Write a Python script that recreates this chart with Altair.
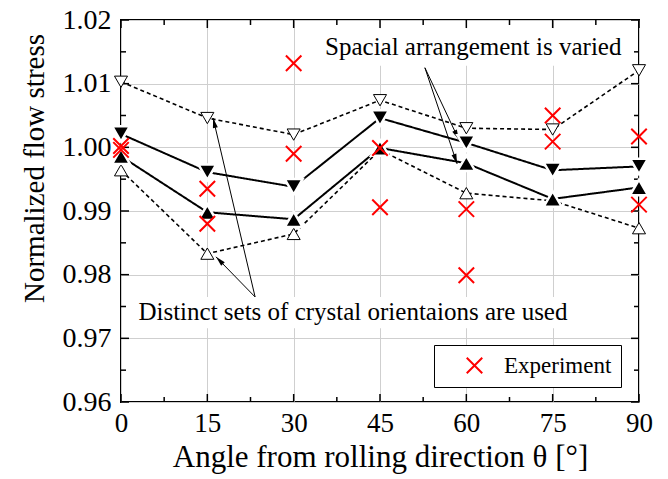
import math
import altair as alt
import pandas as pd

# ---- data -----------------------------------------------------------------
angles = [0, 15, 30, 45, 60, 75, 90]

# simulated normalized flow stress, four cases
orient_upper = [1.0103, 1.0046, 1.0020, 1.0074, 1.0030, 1.0028, 1.0121]   # open down-triangles, dashed
spatial_upper = [1.0021, 0.9961, 0.9938, 1.0046, 1.0007, 0.9964, 0.9970]  # filled down-triangles, solid
spatial_lower = [0.9986, 0.9898, 0.9887, 0.9999, 0.9975, 0.9919, 0.9937]  # filled up-triangles, solid
orient_lower = [0.9964, 0.9833, 0.9864, 0.9996, 0.9928, 0.9916, 0.9873]   # open up-triangles, dashed

# experiment
exp_angles = [0, 0, 15, 15, 30, 30, 45, 45, 60, 60, 75, 75, 90, 90]
exp_values = [1.0002, 0.9996, 0.9935, 0.9880, 1.0132, 0.9990, 0.9999, 0.9906,
              0.9903, 0.9799, 1.0050, 1.0009, 1.0017, 0.9910]

# axis ticks
x_major = [0, 15, 30, 45, 60, 75, 90]
x_minor = [7.5, 22.5, 37.5, 52.5, 67.5, 82.5]
y_major = [0.96, 0.97, 0.98, 0.99, 1.00, 1.01, 1.02]
y_minor = [0.965, 0.975, 0.985, 0.995, 1.005, 1.015]

# annotations: text, centre, white box behind it
notes = ["Spacial arrangement is varied", "Distinct sets of crystal orientaions are used"]
note_x = [61.2, 40.3]
note_y = [1.0157, 0.9741]
box_x = [34.9, 2.4]
box_x2 = [87.6, 78.4]
box_y = [1.0187, 0.9765]
box_y2 = [1.0128, 0.9716]

# arrows: start -> end
arrow_x0 = [52.8, 52.8, 23.3, 23.3]
arrow_y0 = [1.0125, 1.0125, 0.9765, 0.9765]
arrow_x1 = [58.7, 58.4, 16.0, 16.5]
arrow_y1 = [1.0012, 0.9974, 1.0046, 0.9828]

# ---- layout ---------------------------------------------------------------
W, H = 518, 382
X_DOM, Y_DOM = [0, 90], [0.96, 1.02]
FONT = "Liberation Serif"

xs = alt.Scale(domain=X_DOM, nice=False, zero=False)
ys = alt.Scale(domain=Y_DOM, nice=False, zero=False)

x_axis = alt.Axis(values=x_major, title="Angle from rolling direction θ [°]",
                  tickSize=0, domain=False, labelPadding=8, titlePadding=6,
                  labelFlush=False, labelFontSize=27, titleFontSize=31,
                  titleFontWeight="normal",
                  grid=True, gridColor="#cfcfcf", gridWidth=1)
y_axis = alt.Axis(values=y_major, format=".2f", title="Normalized flow stress",
                  tickSize=0, domain=False, labelPadding=10, titlePadding=13,
                  titleY=148,
                  labelFlush=False, labelFontSize=28, titleFontSize=29,
                  titleFontWeight="normal",
                  grid=True, gridColor="#cfcfcf", gridWidth=1)

X = lambda f: alt.X(f, type="quantitative", scale=xs, axis=x_axis)
Y = lambda f: alt.Y(f, type="quantitative", scale=ys, axis=y_axis)

layers = []

# inward ticks on all four sides
def xticks(vals, length):
    df = pd.DataFrame({"v": vals})
    b = alt.Chart(df).mark_rule(color="black", strokeWidth=1.5).encode(
        x=X("v"), y=alt.value(H), y2=alt.value(H - length))
    t = alt.Chart(df).mark_rule(color="black", strokeWidth=1.5).encode(
        x=X("v"), y=alt.value(0), y2=alt.value(length))
    return [b, t]

def yticks(vals, length):
    df = pd.DataFrame({"v": vals})
    l = alt.Chart(df).mark_rule(color="black", strokeWidth=1.5).encode(
        y=Y("v"), x=alt.value(0), x2=alt.value(length))
    r = alt.Chart(df).mark_rule(color="black", strokeWidth=1.5).encode(
        y=Y("v"), x=alt.value(W), x2=alt.value(W - length))
    return [l, r]

layers += xticks(x_major, 8) + xticks(x_minor, 5) + yticks(y_major, 8) + yticks(y_minor, 5)

# annotation boxes and text
note_df = pd.DataFrame({"t": notes, "x": note_x, "y": note_y,
                        "bx": box_x, "bx2": box_x2, "by": box_y, "by2": box_y2})
layers.append(alt.Chart(note_df).mark_rect(color="white").encode(
    x=X("bx"), x2="bx2", y=Y("by"), y2="by2"))
layers.append(alt.Chart(note_df).mark_text(font=FONT, fontSize=25, color="black",
                                           baseline="middle", align="center").encode(
    x=X("x"), y=Y("y"), text="t:N"))

# arrows
px_x = W / (X_DOM[1] - X_DOM[0])
px_y = H / (Y_DOM[1] - Y_DOM[0])
ang = []
for a0, b0, a1, b1 in zip(arrow_x0, arrow_y0, arrow_x1, arrow_y1):
    dx = (a1 - a0) * px_x
    dy = -(b1 - b0) * px_y
    ang.append(math.degrees(math.atan2(dx, -dy)) % 360)
arr_df = pd.DataFrame({"x0": arrow_x0, "y0": arrow_y0, "x1": arrow_x1, "y1": arrow_y1, "a": ang})
layers.append(alt.Chart(arr_df).mark_rule(color="black", strokeWidth=1).encode(
    x=X("x0"), y=Y("y0"), x2="x1", y2="y1"))
layers.append(alt.Chart(arr_df).mark_point(shape="M0,0L-0.25,1L0.25,1Z", size=400,
                                           filled=True, color="black", opacity=1).encode(
    x=X("x1"), y=Y("y1"), angle=alt.Angle("a:Q", scale=None)))

# simulation series
def series(vals, dashed, shape, filled, size):
    df = pd.DataFrame({"a": angles, "v": vals})
    line = alt.Chart(df).mark_line(color="black",
                                   strokeWidth=1.6 if dashed else 2,
                                   strokeDash=[4, 3] if dashed else [1, 0]).encode(
        x=X("a"), y=Y("v"))
    if filled:
        pts = alt.Chart(df).mark_point(shape=shape, size=size, filled=True, opacity=1,
                                       fill="black", stroke="white", strokeWidth=2.5).encode(
            x=X("a"), y=Y("v"))
    else:
        pts = alt.Chart(df).mark_point(shape=shape, size=size, filled=True, opacity=1,
                                       fill="white", stroke="black", strokeWidth=1).encode(
            x=X("a"), y=Y("v"))
    return [line, pts]

layers += series(orient_upper, True, "triangle-down", False, 170)
layers += series(orient_lower, True, "triangle-up", False, 170)
layers += series(spatial_upper, False, "triangle-down", True, 320)
layers += series(spatial_lower, False, "triangle-up", True, 320)

# experiment crosses with legend
XMARK = "M-1,-1L1,1M-1,1L1,-1"
exp_df = pd.DataFrame({"a": exp_angles, "v": exp_values, "s": ["Experiment"] * len(exp_values)})
layers.append(alt.Chart(exp_df).mark_point(shape=XMARK, size=240, strokeWidth=2,
                                           filled=False, opacity=1).encode(
    x=X("a"), y=Y("v"),
    color=alt.Color("s:N", scale=alt.Scale(domain=["Experiment"], range=["red"]),
                    legend=alt.Legend(title=None, orient="none", legendX=313, legendY=325,
                                      symbolType=XMARK, symbolSize=240, symbolStrokeWidth=2,
                                      symbolOffset=20, labelOffset=18,
                                      labelFont=FONT, labelFontSize=23, labelColor="black",
                                      strokeColor="black", fillColor="white", padding=9))))

chart = alt.layer(*layers).properties(
    width=W, height=H,
    autosize=alt.AutoSizeParams(type="none"),
    padding={"left": 121, "top": 20, "right": 29, "bottom": 77},
).configure(font=FONT).configure_view(stroke="black", strokeWidth=2).configure_axis(
    labelFont=FONT, titleFont=FONT, labelColor="black", titleColor="black")

chart.save("out.html", embed_options={"renderer": "svg", "actions": False})
